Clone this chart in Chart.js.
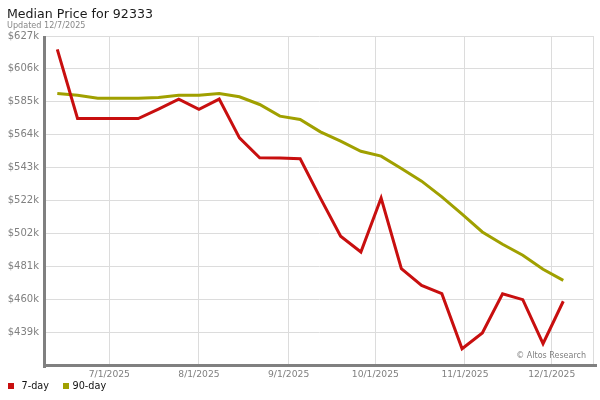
<!DOCTYPE html>
<html>
<head>
<meta charset="utf-8">
<script src="https://cdn.jsdelivr.net/npm/chart.js@4.4.1/dist/chart.umd.min.js"></script>
<style>
  html, body { margin: 0; padding: 0; background: #fff; }
  #wrap { position: relative; width: 600px; height: 400px; }
</style>
</head>
<body>
<div id="wrap"><canvas id="c" width="600" height="400"></canvas></div>
<script>
// ---- data ----
const chartTitle = 'Median Price for 92333';
const chartSubtitle = 'Updated 12/7/2025';
const creditText = '\u00A9 Altos Research';

const dates = [
  '2025-06-13','2025-06-20','2025-06-27','2025-07-04','2025-07-11','2025-07-18','2025-07-25',
  '2025-08-01','2025-08-08','2025-08-15','2025-08-22','2025-08-29','2025-09-05','2025-09-12',
  '2025-09-19','2025-09-26','2025-10-03','2025-10-10','2025-10-17','2025-10-24','2025-10-31',
  '2025-11-07','2025-11-14','2025-11-21','2025-11-28','2025-12-05'
];
const sevenDay = [
  618500, 574600, 574600, 574600, 574600, 580600, 586900,
  580400, 586900, 562300, 549600, 549500, 549000, 524000,
  499800, 489800, 524100, 479200, 468600, 463300, 428300,
  438300, 463300, 459500, 431500, 458500
];
const ninetyDay = [
  590500, 589300, 587400, 587400, 587400, 588000, 589300,
  589300, 590500, 588400, 583500, 576100, 574000, 566100,
  560200, 553800, 550700, 542800, 534800, 524800, 513800,
  502500, 494700, 487700, 478800, 471800
];
const seriesNames = ['7-day', '90-day'];
const seriesColors = ['#c80f0f', '#a0a000'];

const yTickValues = [438900, 459800, 480700, 501600, 522500, 543400, 564300, 585200, 606100, 627000];
const yTickLabels = ['$439k','$460k','$481k','$502k','$522k','$543k','$564k','$585k','$606k','$627k'];
const xTickDates = ['2025-07-01','2025-08-01','2025-09-01','2025-10-01','2025-11-01','2025-12-01'];
const xTickLabels = ['7/1/2025','8/1/2025','9/1/2025','10/1/2025','11/1/2025','12/1/2025'];
const xRange = ['2025-06-08T18:00:00Z', '2025-12-15T15:00:00Z'];
const yRange = [418000, 627000];

// ---- helpers ----
const ts = s => Date.parse(s.length === 10 ? s + 'T00:00:00Z' : s);
const FONT = '"DejaVu Sans", Verdana, sans-serif';
const legendSwatchX = [8, 63];
const legendTextX = [21.5, 72.5];

const pts = arr => arr.map((v, i) => ({ x: ts(dates[i]), y: v }));

const decor = {
  id: 'decor',
  beforeDatasetsDraw(chart) {
    const { ctx, chartArea: a } = chart;
    ctx.save();
    ctx.strokeStyle = '#dcdcdc';
    ctx.lineWidth = 1;
    ctx.beginPath();
    ctx.moveTo(Math.round(a.right) - 0.5, a.top);
    ctx.lineTo(Math.round(a.right) - 0.5, a.bottom);
    ctx.stroke();
    ctx.restore();
  },
  afterDraw(chart) {
    const { ctx, chartArea: a } = chart;
    ctx.save();
    // axes
    ctx.fillStyle = '#808080';
    ctx.fillRect(a.left - 2, a.top, 3, a.bottom - a.top + 3);
    ctx.fillRect(a.left - 2, a.bottom - 1, a.right - a.left + 5, 3);
    // title
    ctx.fillStyle = '#1a1a1a';
    ctx.font = '12.6px ' + FONT;
    ctx.textBaseline = 'alphabetic';
    ctx.textAlign = 'left';
    ctx.fillText(chartTitle, 7, 18);
    ctx.fillStyle = '#888';
    ctx.font = '8.1px ' + FONT;
    ctx.fillText(chartSubtitle, 7, 27.5);
    // credit
    ctx.font = '8px ' + FONT;
    ctx.textAlign = 'right';
    ctx.fillStyle = '#808080';
    ctx.fillText(creditText, a.right - 8, a.bottom - 7.5);
    // legend
    ctx.textAlign = 'left';
    ctx.font = '9.7px ' + FONT;
    const ly = 386;
    seriesNames.forEach((n, i) => {
      ctx.fillStyle = seriesColors[i];
      ctx.fillRect(legendSwatchX[i], ly - 3, 6, 6);
      ctx.fillStyle = '#111';
      ctx.textBaseline = 'middle';
      ctx.fillText(n, legendTextX[i], ly + 0.5);
    });
    ctx.restore();
  }
};

new Chart(document.getElementById('c'), {
  type: 'line',
  data: {
    datasets: seriesNames.map((n, i) => ({
      label: n,
      data: pts(i === 0 ? sevenDay : ninetyDay),
      borderColor: seriesColors[i],
      backgroundColor: seriesColors[i],
      borderWidth: 3,
      pointRadius: 0,
      tension: 0,
      fill: false,
      order: i === 0 ? 0 : 1
    }))
  },
  options: {
    responsive: false,
    animation: false,
    events: [],
    layout: { padding: { top: 36, right: 6, bottom: 15, left: 0 } },
    plugins: { legend: { display: false }, title: { display: false }, tooltip: { enabled: false } },
    scales: {
      x: {
        type: 'linear',
        min: ts(xRange[0]),
        max: ts(xRange[1]),
        afterBuildTicks: s => { s.ticks = xTickDates.map(d => ({ value: ts(d) })); },
        afterFit: s => { s.height = 20; },
        grid: { color: '#dcdcdc', lineWidth: 1, drawTicks: false },
        border: { display: false },
        ticks: {
          padding: 4,
          color: '#808080',
          font: { family: FONT, size: 9.2 },
          maxRotation: 0,
          autoSkip: false,
          callback: v => { const k = xTickDates.findIndex(d => ts(d) === v); return k >= 0 ? xTickLabels[k] : ''; }
        }
      },
      y: {
        min: yRange[0],
        max: yRange[1],
        afterBuildTicks: s => { s.ticks = yTickValues.map(v => ({ value: v })); },
        afterFit: s => { s.width = 45; },
        grid: { color: '#dcdcdc', lineWidth: 1, drawTicks: false },
        border: { display: false },
        ticks: {
          padding: 6,
          color: '#808080',
          font: { family: FONT, size: 10 },
          autoSkip: false,
          callback: v => { const k = yTickValues.indexOf(v); return k >= 0 ? yTickLabels[k] : ''; }
        }
      }
    }
  },
  plugins: [decor]
});
</script>
</body>
</html>
